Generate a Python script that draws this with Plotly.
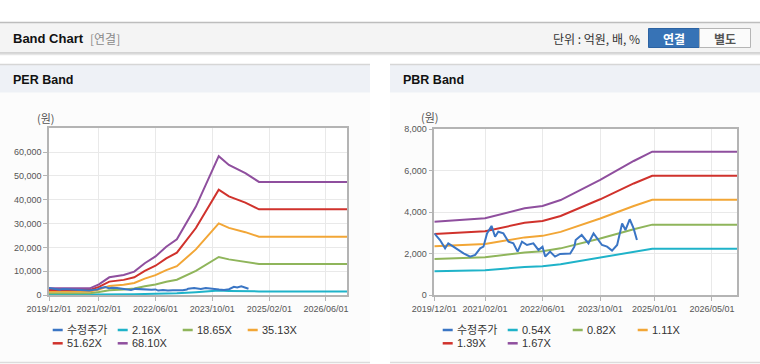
import plotly.graph_objects as go

W, H = 760, 364

# ---------------- data ----------------
price_dates = ["2019-12-01","2020-01-18","2020-03-01","2020-03-28","2020-05-10","2020-06-21","2020-08-04","2020-09-28",
               "2020-11-10","2020-12-22","2021-01-19","2021-02-18","2021-03-28","2021-04-27","2021-05-24","2021-07-06",
               "2021-08-18","2021-09-28","2021-11-03","2021-12-10","2022-01-21","2022-03-16","2022-04-28","2022-06-01",
               "2022-06-24","2022-08-04","2022-09-15","2022-10-28","2023-01-21","2023-02-25","2023-03-08","2023-04-28",
               "2023-06-24","2023-08-06","2023-09-18","2023-10-16","2023-11-28","2024-01-09","2024-02-21","2024-04-03",
               "2024-05-01","2024-06-06","2024-07-09","2024-08-06"]
price = [2970,2650,2250,2490,2330,2170,2010,1850,1930,2250,2330,2970,3330,2810,3050,2970,2570,2490,2090,2570,
         2410,2490,2170,2330,1850,2090,1850,1980,2000,2330,2650,2890,2490,2970,2650,2410,2330,2140,2410,3450,
         3130,3650,3210,2650]

per_dates = ["2019-12-01","2020-11-15","2021-02-01","2021-05-01","2021-09-01","2021-12-01","2022-03-01","2022-06-01",
             "2022-09-01","2022-12-01","2023-05-13","2023-11-25","2024-02-20","2024-07-10","2024-11-04","2026-12-01"]
per_216 = [89,89,143,235,266,311,423,514,644,743,1177,1849,1732,1622,1506,1506]
per_1865 = [765,765,1231,2033,2294,2686,3655,4439,5558,6416,10164,15964,14957,14006,12999,12999]
per_3513 = [1440,1440,2319,3829,4321,5059,6885,8361,10469,12085,19146,30071,28174,26383,24486,24486]
per_5162 = [2116,2116,3407,5627,6349,7433,10118,12286,15383,17757,28133,44187,41399,38767,35979,35979]
per_6810 = [2792,2792,4495,7423,8376,9806,13348,16208,20294,23426,37115,58294,54616,51143,47466,47466]

pbr_dates = ["2019-12-01","2021-02-01","2022-01-01","2022-06-01","2022-11-01","2023-07-10","2023-10-01",
             "2024-07-10","2024-12-13","2026-12-01"]
pbr_054 = [1142,1195,1351,1387,1480,1714,1792,2088,2233,2233]
pbr_082 = [1734,1815,2052,2106,2248,2603,2722,3171,3391,3391]
pbr_111 = [2348,2456,2777,2850,3043,3523,3684,4292,4590,4590]
pbr_139 = [2940,3076,3478,3570,3810,4412,4613,5375,5748,5748]
pbr_167 = [3532,3696,4178,4289,4577,5301,5543,6458,6905,6905]

per_names = ["수정주가", "2.16X", "18.65X", "35.13X", "51.62X", "68.10X"]
pbr_names = ["수정주가", "0.54X", "0.82X", "1.11X", "1.39X", "1.67X"]

per_tickvals = ["2019-12-01","2021-02-01","2022-06-01","2023-10-01","2025-02-01","2026-06-01"]
per_ticktext = ["2019/12/01","2021/02/01","2022/06/01","2023/10/01","2025/02/01","2026/06/01"]
pbr_tickvals = ["2019-12-01","2021-02-01","2022-06-01","2023-10-01","2025-01-01","2026-05-01"]
pbr_ticktext = ["2019/12/01","2021/02/01","2022/06/01","2023/10/01","2025/01/01","2026/05/01"]
per_yticks = [0, 10000, 20000, 30000, 40000, 50000, 60000]
pbr_yticks = [0, 2000, 4000, 6000, 8000]

colors = ["#3a75c4", "#1fb3c9", "#8fb55b", "#f2a636", "#d0322c", "#8f4f9e"]

# ---------------- helpers ----------------
def X(px):
    return px / W

def Y(py):
    return 1 - py / H

FONT = "Liberation Sans, Arial, Noto Sans CJK KR, sans-serif"
KFONT = "Noto Sans CJK KR, Liberation Sans, sans-serif"

fig = go.Figure()

per_series = [per_216, per_1865, per_3513, per_5162, per_6810]
pbr_series = [pbr_054, pbr_082, pbr_111, pbr_139, pbr_167]

for i, s in enumerate(per_series):
    fig.add_trace(go.Scatter(x=per_dates, y=s, mode="lines", name=per_names[i + 1],
                             line=dict(color=colors[i + 1], width=2), xaxis="x", yaxis="y",
                             showlegend=False, hoverinfo="skip"))
fig.add_trace(go.Scatter(x=price_dates, y=price, mode="lines", name=per_names[0],
                         line=dict(color=colors[0], width=2), xaxis="x", yaxis="y",
                         showlegend=False, hoverinfo="skip"))

for i, s in enumerate(pbr_series):
    fig.add_trace(go.Scatter(x=pbr_dates, y=s, mode="lines", name=pbr_names[i + 1],
                             line=dict(color=colors[i + 1], width=2), xaxis="x2", yaxis="y2",
                             showlegend=False, hoverinfo="skip"))
fig.add_trace(go.Scatter(x=price_dates, y=price, mode="lines", name=pbr_names[0],
                         line=dict(color=colors[0], width=2), xaxis="x2", yaxis="y2",
                         showlegend=False, hoverinfo="skip"))

axis_common = dict(showline=True, linecolor="#b4b4b4", linewidth=1.5, mirror=True,
                   showgrid=True, gridcolor="#e9e9e9", gridwidth=1, zeroline=False,
                   ticks="outside", ticklen=4, tickcolor="#b4b4b4", tickwidth=1, automargin=False,
                   tickfont=dict(family=FONT, size=9, color="#555555"), fixedrange=True)

fig.update_layout(
    template="none",
    width=W, height=H, margin=dict(l=0, r=0, t=0, b=0, pad=0), autosize=False,
    paper_bgcolor="white", plot_bgcolor="rgba(0,0,0,0)", showlegend=False,
    xaxis=dict(domain=[X(49), X(347.3)], anchor="y", type="date",
               range=["2019-12-01", "2026-12-01"], tickvals=per_tickvals, ticktext=per_ticktext,
               **axis_common),
    yaxis=dict(domain=[Y(295), Y(128.3)], anchor="x", range=[0, 70000],
               tickvals=per_yticks, tickformat=",d", **axis_common),
    xaxis2=dict(domain=[X(434.3), X(737.3)], anchor="y2", type="date",
                range=["2019-12-01", "2026-12-01"], tickvals=pbr_tickvals, ticktext=pbr_ticktext,
                **axis_common),
    yaxis2=dict(domain=[Y(295), Y(129)], anchor="x2", range=[0, 8000],
                tickvals=pbr_yticks, tickformat=",d", **axis_common),
)

shapes = []
ann = []

def rect(x0, y0, x1, y1, fill, line=None, lw=0, layer="below"):
    shapes.append(dict(type="rect", xref="paper", yref="paper", x0=X(x0), x1=X(x1), y0=Y(y1), y1=Y(y0),
                       fillcolor=fill, line=dict(color=line or fill, width=lw), layer=layer))

def hline(x0, x1, y, color, w=1, layer="below"):
    shapes.append(dict(type="line", xref="paper", yref="paper", x0=X(x0), x1=X(x1), y0=Y(y), y1=Y(y),
                       line=dict(color=color, width=w), layer=layer))

def text(x, y, s, size=12, color="#333", bold=False, anchor="left", family=FONT):
    ann.append(dict(xref="paper", yref="paper", x=X(x), y=Y(y), text=("<b>%s</b>" % s) if bold else s,
                    showarrow=False, xanchor=anchor, yanchor="middle",
                    font=dict(family=family, size=size, color=color)))

# top header bar
rect(0, 22.5, 760, 52.5, "#f4f4f4")
hline(0, 760, 22.5, "#bdbdbd", 1.5)
hline(0, 760, 53, "#c6c6c6", 1.5)
hline(0, 760, 54.5, "#e6e6e6", 1.5)
text(11, 38.5, "Band Chart", size=13, color="#111", bold=True)
text(88, 38.5, "[연결]", size=12, color="#8a8a8a", family=KFONT)
text(641.5, 38.5, "단위 : 억원, 배, %", size=12, color="#333", anchor="right", family=KFONT)

# buttons
rect(648.5, 28.5, 699.5, 47.5, "#3773b6", "#2c63a3", 1, layer="above")
rect(699.5, 28.5, 750.5, 47.5, "#fbfbfb", "#b5b5b5", 1, layer="above")
text(674, 38.5, "연결", size=12, color="white", bold=True, anchor="center", family=KFONT)
text(725, 38.5, "별도", size=12, color="#555", bold=True, anchor="center", family=KFONT)

# panels
for (px0, px1) in [(0, 370), (390, 760)]:
    rect(px0, 64, px1, 362, "#fcfcfc")
    rect(px0, 64.5, px1, 92.5, "#eef1f6")
    hline(px0, px1, 64.5, "#d6d6d6", 1.5)
    hline(px0, px1, 362.5, "#dcdcdc", 1.5)

# plot area backgrounds (white)
for xr, yr in [("x domain", "y domain"), ("x2 domain", "y2 domain")]:
    shapes.append(dict(type="rect", xref=xr, yref=yr, x0=0, x1=1, y0=0, y1=1,
                       fillcolor="white", line=dict(width=0), layer="below"))

text(11, 80, "PER Band", size=12.5, color="#111", bold=True)
text(401, 80, "PBR Band", size=12.5, color="#111", bold=True)
text(35, 118, "(원)", size=11, color="#555", family=KFONT)
text(419, 117, "(원)", size=11, color="#555", family=KFONT)

# custom legends
for base, names in [(52.7, per_names), (442.7, pbr_names)]:
    for i, nm in enumerate(names):
        col, row = i % 4, i // 4
        lx = base + col * 65
        ly = 330 + row * 13.3
        hline(lx, lx + 10, ly, colors[i], 2.5, layer="above")
        text(lx + 12.5, ly, nm, size=11, color="#333", family=FONT)

fig.update_layout(shapes=shapes, annotations=ann)

fig.write_html("out.html", config={"displayModeBar": False},
               post_script="document.body.style.margin='0';document.body.style.overflow='hidden';")
